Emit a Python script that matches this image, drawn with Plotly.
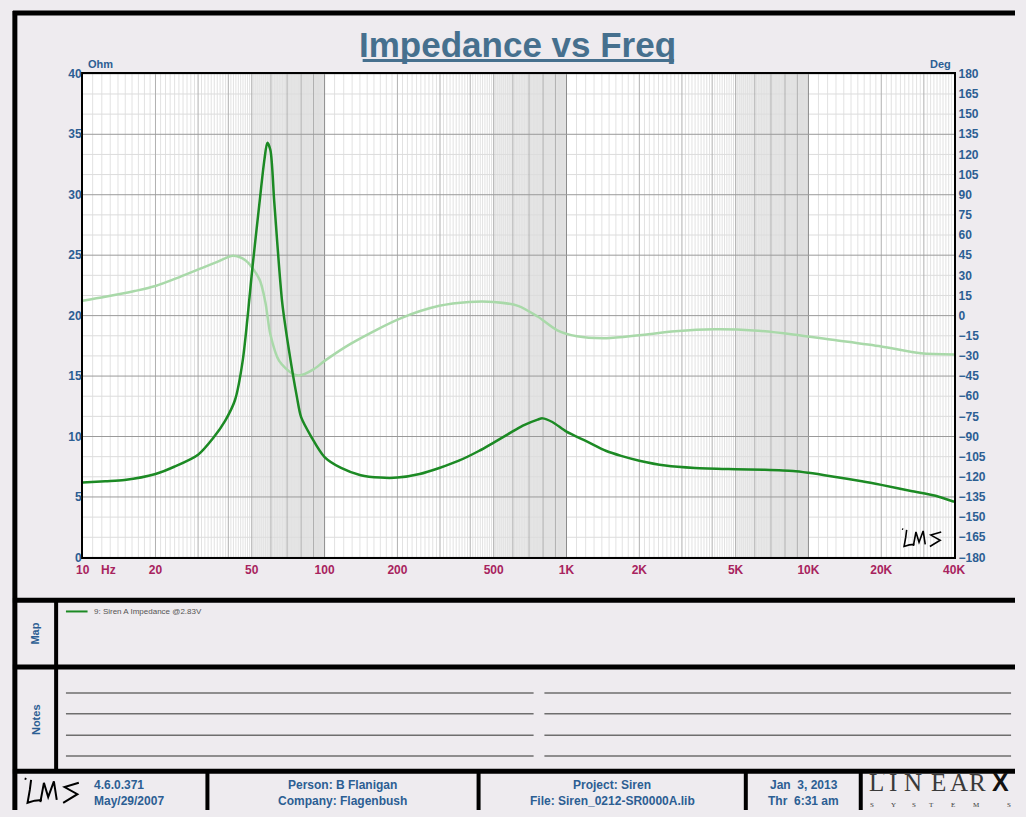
import numpy as np
import plotly.graph_objects as go

W, H = 1026, 817

# ---------------- data ----------------
imp_freq = [10, 12.4, 14.9, 20, 23.9, 30, 34.7, 38.8, 42.6, 45.9,
            50.4, 53.8, 56.4, 58.0, 59.7, 62.0, 66.8, 71.3, 76.8, 80,
            88, 100, 117, 141, 170, 200, 247, 298, 359, 434,
            500, 574, 660, 760, 796, 874, 1000, 1212, 1462, 1682,
            2000, 2563, 3393, 5000, 6527, 8640, 10000, 12565, 16628, 20000,
            26550, 33540, 40000]
imp_ohm = [6.2, 6.3, 6.4, 6.9, 7.5, 8.5, 9.9, 11.3, 13.0, 16.3,
           24.1, 29.3, 32.9, 34.3, 33.7, 29.3, 21.1, 17.1, 13.3, 11.6,
           10.0, 8.3, 7.4, 6.8, 6.6, 6.6, 6.9, 7.4, 8.0, 8.8,
           9.5, 10.2, 10.9, 11.4, 11.5, 11.2, 10.4, 9.6, 8.8, 8.4,
           8.0, 7.6, 7.4, 7.3, 7.25, 7.15, 7.0, 6.7, 6.3, 6.0,
           5.5, 5.1, 4.6]

phase_freq = [10, 12.4, 16.4, 20, 25, 31.6, 36, 41.8, 47.2, 53.8,
              56.9, 59.7, 64.9, 73.3, 78.3, 90, 100, 128, 205, 298,
              395, 500, 630, 760, 916, 1104, 1462, 2000, 2813, 4090,
              5945, 8640, 12565, 20000, 29150, 40000]
phase_deg = [11, 14, 18.3, 22, 28.5, 35.9, 40, 44.6, 41, 27,
             10.2, -14, -33.7, -43, -44.6, -40, -33.7, -21, -2.2, 7.3,
             10.2, 10.2, 7.3, -0.7, -11, -15.4, -16.8, -14.6, -11.7, -10.2,
             -11, -14, -18, -23, -28, -29]

x_tickvals = [10, 20, 50, 100, 200, 500, 1000, 2000, 5000, 10000, 20000, 40000]
x_ticktext = ["10", "20", "50", "100", "200", "500", "1K", "2K", "5K", "10K", "20K", "40K"]
ohm_ticks = list(range(0, 41, 5))
deg_ticks = list(range(-180, 181, 15))

# ---------------- helpers ----------------
def px(x):
    return x / W

def py(y):
    return 1 - y / H

FONT = "Liberation Sans, Arial, sans-serif"
BLUE = "#2c5e93"
CRIMSON = "#a8235e"
BG = "#eeebef"

fig = go.Figure()

def vlines(vals):
    xs, ys = [], []
    for v in vals:
        xs += [v, v, None]
        ys += [-180, 180, None]
    return xs, ys

def hlines(vals):
    xs, ys = [], []
    for v in vals:
        xs += [10, 40000, None]
        ys += [v, v, None]
    return xs, ys

sub_minor, minor, major = [], [], []
for d in [10, 100, 1000, 10000]:
    for k in range(11, 100):
        if k % 10 == 0:
            continue
        v = d * k / 10.0
        if v < 40000:
            sub_minor.append(v)
    for m in range(2, 10):
        v = d * m
        if v < 40000:
            minor.append(v)
    if d > 10:
        major.append(d)

xs, ys = vlines(sub_minor)
fig.add_trace(go.Scatter(x=xs, y=ys, mode="lines", line=dict(color="#e2e2e2", width=1),
                         hoverinfo="skip", showlegend=False, yaxis="y"))
xs, ys = hlines([v for v in deg_ticks if v % 45 != 0])
fig.add_trace(go.Scatter(x=xs, y=ys, mode="lines", line=dict(color="#dcdcdc", width=1),
                         hoverinfo="skip", showlegend=False, yaxis="y"))
xs, ys = vlines(minor)
fig.add_trace(go.Scatter(x=xs, y=ys, mode="lines", line=dict(color="#b0b0b0", width=1),
                         hoverinfo="skip", showlegend=False, yaxis="y"))
xs, ys = vlines(major)
fig.add_trace(go.Scatter(x=xs, y=ys, mode="lines", line=dict(color="#8c8c8c", width=1),
                         hoverinfo="skip", showlegend=False, yaxis="y"))
xs, ys = hlines([v for v in deg_ticks if v % 45 == 0])
fig.add_trace(go.Scatter(x=xs, y=ys, mode="lines", line=dict(color="#9a9a9a", width=1),
                         hoverinfo="skip", showlegend=False, yaxis="y"))

fig.add_trace(go.Scatter(x=phase_freq, y=phase_deg, mode="lines",
                         line=dict(color="#a9d9a9", width=2.5, shape="spline", smoothing=0.8),
                         hoverinfo="skip", showlegend=False, yaxis="y"))
fig.add_trace(go.Scatter(x=imp_freq, y=imp_ohm, mode="lines",
                         line=dict(color="#1c8a24", width=2.5, shape="spline", smoothing=0.8),
                         hoverinfo="skip", showlegend=False, yaxis="y2"))

shapes = []
band_cols = ["#efefef", "#ebebeb", "#e7e7e7", "#e3e3e3", "#dadada"]
for d in [10, 100, 1000]:
    for i, m in enumerate(range(5, 10)):
        shapes.append(dict(type="rect", xref="x", yref="y", x0=d * m, x1=d * (m + 1),
                           y0=-180, y1=180, fillcolor=band_cols[i], line=dict(width=0),
                           layer="below"))

def hline(y, x0, x1, w, col="black"):
    shapes.append(dict(type="line", xref="paper", yref="paper", x0=px(x0), x1=px(x1),
                       y0=py(y), y1=py(y), line=dict(color=col, width=w)))

def vline(x, y0, y1, w, col="black"):
    shapes.append(dict(type="line", xref="paper", yref="paper", x0=px(x), x1=px(x),
                       y0=py(y0), y1=py(y1), line=dict(color=col, width=w)))

hline(6, 6, 1026, 5)
vline(8, 4, 817, 5)
hline(603.5, 6, 1026, 5)
hline(671.5, 6, 1026, 5)
hline(777.5, 6, 1026, 5)
vline(50, 603, 777, 4)
for xx in [204, 480, 752, 869]:
    vline(xx, 777, 817, 4)
hline(54.5, 362, 679, 3, "#46708e")
for yy in [698, 719, 741, 762]:
    hline(yy, 60, 536, 1.5, "#6e6e6e")
    hline(yy, 547, 1022, 1.5, "#6e6e6e")
hline(615, 60, 82, 2, "#1c8a24")

def lms_path(ox, oy, s):
    strokes = [
        [(0, 0), (1.2, 0.4)],
        [(4.5, 1), (3.6, 8), (2, 17), (7, 15.5), (12, 15)],
        [(11, 16.5), (13.5, 3), (16.5, 13), (20.5, 2), (22.5, 15)],
        [(38, 3), (28, 6), (37, 11), (27, 17)],
    ]
    out = []
    for st in strokes:
        seg = "M " + " L ".join(f"{px(ox + x * s):.5f},{py(oy + y * s):.5f}" for x, y in st)
        out.append(seg)
    return out

for p in lms_path(911, 531, 1.05):
    shapes.append(dict(type="path", xref="paper", yref="paper", path=p,
                       line=dict(color="black", width=1.6)))
for p in lms_path(18, 785, 1.45):
    shapes.append(dict(type="path", xref="paper", yref="paper", path=p,
                       line=dict(color="black", width=2)))

annotations = []

def ann(text, x, y, size=12, color=BLUE, xanchor="center", yanchor="middle", bold=True,
        family=FONT, angle=0):
    annotations.append(dict(text=text, x=px(x), y=py(y), xref="paper", yref="paper",
                            xanchor=xanchor, yanchor=yanchor, showarrow=False, textangle=angle,
                            font=dict(size=size, color=color, family=family,
                                      weight="bold" if bold else "normal")))

ann("Impedance vs Freq", 520, 38, size=35, color="#46708e")
ann("Ohm", 80, 58, size=11, xanchor="left")
ann("Deg", 963, 58, size=11, xanchor="right")
ann("Hz", 94, 573, size=12, color=CRIMSON, xanchor="left")
ann("Map", 29, 637, size=11, angle=-90)
ann("Notes", 29, 725, size=11, angle=-90)
ann("9: Siren A Impedance @2.83V", 87, 615, size=8, color="#555555", xanchor="left", bold=False)
ann("4.6.0.371", 87, 792, size=12, xanchor="left")
ann("May/29/2007", 87, 808, size=12, xanchor="left")
ann("Person: B Flanigan", 341, 792, size=12)
ann("Company: Flagenbush", 341, 808, size=12)
ann("Project: Siren", 616, 792, size=12)
ann("File: Siren_0212-SR0000A.lib", 616, 808, size=12)
ann("Jan  3, 2013", 811, 792, size=12)
ann("Thr  6:31 am", 811, 808, size=12)
SERIF = "Liberation Serif, DejaVu Serif, serif"
for ch, xc in [("L", 885), ("I", 902), ("N", 922), ("E", 948), ("A", 969), ("R", 988)]:
    ann(ch, xc, 789, size=25, color="#3a3a3a", bold=False, family=SERIF)
ann("'", 893, 782, size=9, color="#3a3a3a", bold=False, family=SERIF)
ann("X", 1011, 789, size=25, color="#111111", bold=True, family=FONT)
for ch, xc in [("S", 880), ("Y", 902), ("S", 923), ("T", 941), ("E", 963), ("M", 987), ("S", 1020)]:
    ann(ch, xc, 812, size=7, color="#3a3a3a", bold=False, family=SERIF)

ydom = [py(560), py(68)]
fig.update_layout(
    width=W, height=H, autosize=False,
    margin=dict(l=0, r=0, t=0, b=0, pad=0),
    paper_bgcolor=BG, plot_bgcolor="white",
    hovermode=False, showlegend=False,
    xaxis=dict(type="log", range=[1, np.log10(40000)], domain=[px(77), px(964)],
               showgrid=False, zeroline=False, showline=True, mirror=True,
               linecolor="black", linewidth=2, ticks="",
               tickvals=x_tickvals, ticktext=x_ticktext,
               tickfont=dict(size=12, color=CRIMSON, family=FONT, weight="bold"),
               anchor="y"),
    yaxis=dict(range=[-180, 180], domain=ydom, side="right",
               showgrid=False, zeroline=False, showline=True, mirror=True,
               linecolor="black", linewidth=2, ticks="",
               tickvals=deg_ticks,
               tickfont=dict(size=12, color=BLUE, family=FONT, weight="bold"),
               anchor="x"),
    yaxis2=dict(range=[0, 40], domain=ydom, side="left", overlaying="y",
                showgrid=False, zeroline=False, showline=False, ticks="",
                tickvals=ohm_ticks,
                tickfont=dict(size=12, color=BLUE, family=FONT, weight="bold"),
                anchor="x"),
    shapes=shapes,
    annotations=annotations,
)

post = ("var de=document.documentElement,b=document.body;"
        "de.style.margin='0';de.style.padding='0';de.style.overflow='hidden';"
        "b.style.margin='0';b.style.padding='0';b.style.overflow='hidden';")
fig.write_html("out.html", post_script=post, config={"displayModeBar": False})
